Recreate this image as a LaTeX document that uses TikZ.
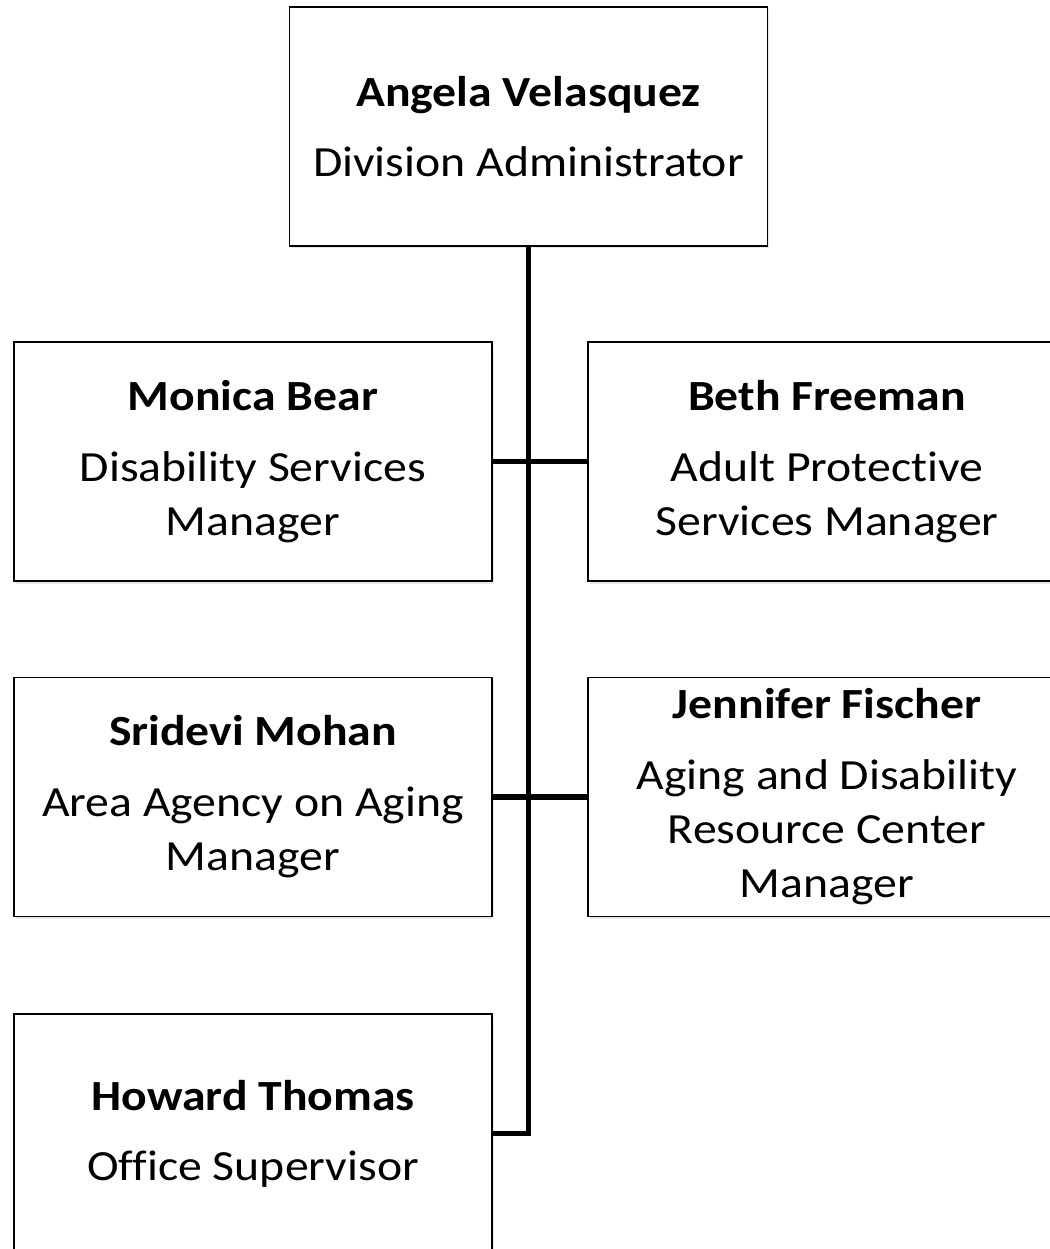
\documentclass[tikz,border=0pt]{standalone}
\usepackage{fontspec}
\setmainfont{Carlito}[FakeStretch=1.11, Ligatures=NoCommon]
\usetikzlibrary{shadows}
\begin{document}
\begin{tikzpicture}[x=1pt,y=-1pt,
  box/.style={draw=black, line width=1.6pt, fill=white, rectangle,
    minimum width=478pt, minimum height=239pt, inner sep=0pt, align=center,
    font=\fontsize{43}{54}\selectfont,
    drop shadow={opacity=0.18, shadow xshift=1.5pt, shadow yshift=-2.5pt}},
  conn/.style={draw=black, line width=5.5pt}]
\useasboundingbox (0,0) rectangle (1049,1249);
\node[box] (top) at (528.5,126.5) {\textbf{Angela Velasquez}\\[16pt]Division Administrator};
\node[box] (monica) at (253,461.5) {\textbf{Monica Bear}\\[17pt]Disability Services\\Manager};
\node[box] (beth) at (827,461.5) {\textbf{Beth Freeman}\\[17pt]Adult Protect\kern0pt ive\\Services Manager};
\node[box] (sridevi) at (253,797) {\textbf{Sridevi Mohan}\\[17pt]Area Agency on Aging\\Manager};
\node[box] (jennifer) at (827,797) {\textbf{Jennifer Fischer}\\[17pt]Aging and Disability\\Resource Center\\Manager};
\node[box] (howard) at (253,1133.5) {\textbf{Howard Thomas}\\[16pt]Office Supervisor};
\draw[conn] (top.south) |- (howard.east);
\draw[conn] (monica.east) -- (beth.west);
\draw[conn] (sridevi.east) -- (jennifer.west);
\end{tikzpicture}
\end{document}
